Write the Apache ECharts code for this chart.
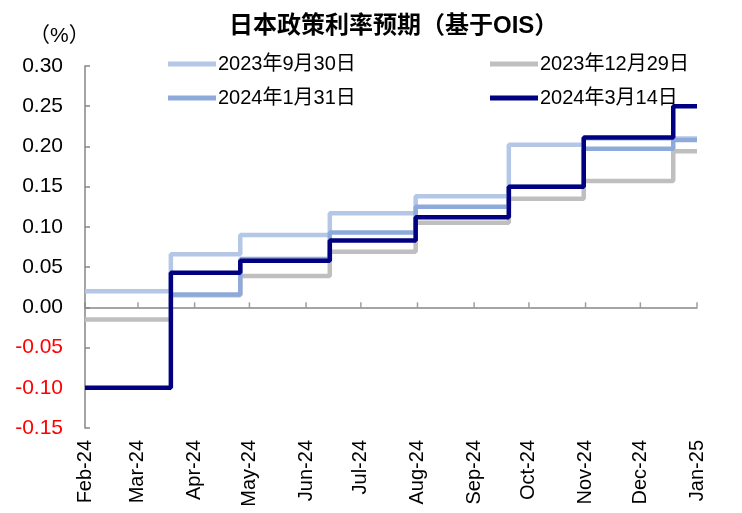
<!DOCTYPE html>
<html><head><meta charset="utf-8">
<script src="https://cdn.jsdelivr.net/npm/echarts@6/dist/echarts.min.js"></script>
<style>html,body{margin:0;padding:0;background:#fff}#c{width:742px;height:513px}</style>
</head><body><div id="c"></div>
<script>
// Segment start dates (BoJ meeting dates) plus the chart end date
const stepDates = ['2024-02-01','2024-03-19','2024-04-26','2024-06-14','2024-07-31','2024-09-20','2024-10-31','2024-12-19','2025-01-01'];
const ois20230930 = [0.020, 0.066, 0.090, 0.117, 0.138, 0.202, 0.210, 0.210, 0.210];
const ois20231229 = [-0.015, 0.015, 0.039, 0.069, 0.105, 0.135, 0.157, 0.194, 0.194];
const ois20240131 = [null, 0.016, 0.060, 0.093, 0.125, 0.150, 0.197, 0.208, 0.208];
const ois20240314 = [-0.100, 0.043, 0.058, 0.083, 0.112, 0.150, 0.211, 0.250, 0.250];
const seriesNames = ['2023年9月30日','2023年12月29日','2024年1月31日','2024年3月14日'];
const tickDates = ['2024-02-01','2024-03-01','2024-04-01','2024-05-01','2024-06-01','2024-07-01','2024-08-01','2024-09-01','2024-10-01','2024-11-01','2024-12-01','2025-01-01'];
const tickLabels = ['Feb-24','Mar-24','Apr-24','May-24','Jun-24','Jul-24','Aug-24','Sep-24','Oct-24','Nov-24','Dec-24','Jan-25'];

const FONT = "'Liberation Sans','Noto Sans CJK SC',sans-serif";
const DAY = 86400000;
const t0 = Date.parse(stepDates[0]);
const dayOf = d => Math.round((Date.parse(d) - t0) / DAY);
const tickDays = tickDates.map(dayOf);
const toData = vals => stepDates.map((d, i) => [dayOf(d), vals[i]]);
const colors = ['#b4c7e7', '#bfbfbf', '#8eaadb', '#000080'];
const allVals = [ois20230930, ois20231229, ois20240131, ois20240314];
const xMin = 0, xMax = dayOf(stepDates[stepDates.length - 1]);
const AXIS_GRAY = '#868686';

const lineSeries = allVals.map((vals, i) => ({
  name: seriesNames[i], type: 'line', step: 'end', xAxisIndex: 0,
  data: toData(vals), symbol: 'none', showSymbol: false,
  color: colors[i], lineStyle: { color: colors[i], width: 4.5 }, z: 3 + i
}));
// month tick marks on the zero line
const tickSeries = {
  name: 'ticks', type: 'scatter', xAxisIndex: 0, silent: true, z: 2,
  data: tickDays.map(d => [d, 0]), symbol: 'rect', symbolSize: [1.5, 5], symbolOffset: [0, -2.5],
  itemStyle: { color: AXIS_GRAY }
};

const chart = echarts.init(document.getElementById('c'));
chart.setOption({
  animation: false,
  backgroundColor: '#fff',
  title: [
    { text: '日本政策利率预期（基于OIS）', left: 224, top: 9,
      textStyle: { fontFamily: FONT, fontSize: 24, fontWeight: 'bold', color: '#000' } },
    { text: '（%）', left: 24, top: 21,
      textStyle: { fontFamily: FONT, fontSize: 21, fontWeight: 'normal', color: '#000' } }
  ],
  legend: [
    { orient: 'vertical', left: 163, top: 49, data: [seriesNames[0], seriesNames[2]],
      icon: 'rect', itemWidth: 48, itemHeight: 5, itemGap: 14,
      textStyle: { fontFamily: FONT, fontSize: 20, color: '#000', padding: [0, 0, 0, -3] } },
    { orient: 'vertical', left: 485, top: 49, data: [seriesNames[1], seriesNames[3]],
      icon: 'rect', itemWidth: 48, itemHeight: 5, itemGap: 14,
      textStyle: { fontFamily: FONT, fontSize: 20, color: '#000', padding: [0, 0, 0, -3] } }
  ],
  grid: { left: 85, right: 45, top: 66, bottom: 85, containLabel: false, outerBoundsMode: 'none' },
  xAxis: [
    { type: 'value', position: 'bottom', min: xMin, max: xMax,
      axisLine: { show: false, onZero: false }, axisTick: { show: false }, splitLine: { show: false },
      axisLabel: { customValues: tickDays, rotate: 90, margin: 12, fontFamily: FONT, fontSize: 20, color: '#000',
        formatter: v => { const i = tickDays.indexOf(v); return i >= 0 ? tickLabels[i] : ''; } } },
    { type: 'value', position: 'bottom', min: xMin, max: xMax,
      axisLine: { show: true, onZero: true, lineStyle: { color: AXIS_GRAY, width: 1.5 } },
      axisTick: { show: false }, axisLabel: { show: false }, splitLine: { show: false } }
  ],
  yAxis: {
    type: 'value', min: -0.15, max: 0.30, interval: 0.05,
    axisLine: { show: true, onZero: false, lineStyle: { color: AXIS_GRAY, width: 1.5 } },
    axisTick: { show: true, inside: true, length: 5, lineStyle: { color: AXIS_GRAY, width: 1.5 } },
    splitLine: { show: false },
    axisLabel: { margin: 22, fontFamily: FONT, fontSize: 21,
      formatter: v => v.toFixed(2),
      color: v => (Number(v) < -1e-9 ? '#ff0000' : '#000') }
  },
  series: [tickSeries].concat(lineSeries)
});
</script></body></html>
